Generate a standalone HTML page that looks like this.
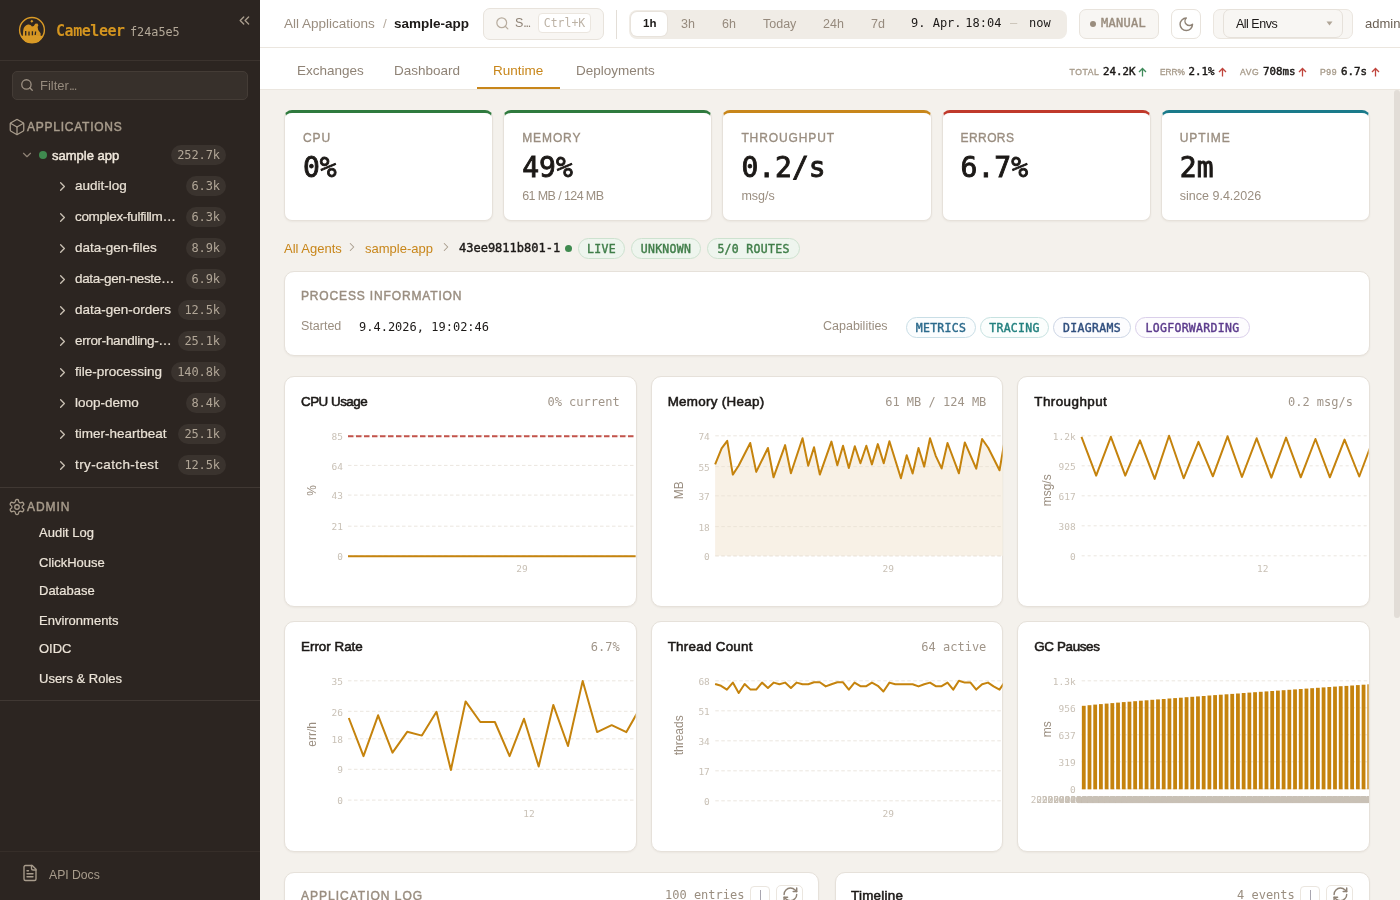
<!DOCTYPE html>
<html><head><meta charset="utf-8"><title>Cameleer</title><style>
*{box-sizing:border-box;margin:0;padding:0}
html,body{width:1400px;height:900px;overflow:hidden}
body{background:#f4f1ec;font-family:"Liberation Sans",sans-serif;color:#1c1917;position:relative}
.m{font-family:"DejaVu Sans Mono","Liberation Mono",monospace}
.a{position:absolute;white-space:nowrap}
#sb{position:absolute;left:0;top:0;width:260px;height:900px;background:#2c2521;overflow:hidden}
.sbl{position:absolute;left:0;width:260px;height:1px;background:#403833}
.nm{position:absolute;font-size:13.5px;color:#e9e1d5;white-space:nowrap}
.cnt{position:absolute;height:20px;border-radius:10px;background:#3a332e;color:#b1a697;font-size:12px;line-height:20px;padding:0 6px;font-family:"DejaVu Sans Mono",monospace;letter-spacing:-0.1px;white-space:nowrap}
.adm{position:absolute;left:39px;font-size:13px;color:#ece4d8;white-space:nowrap;-webkit-text-stroke:0.2px #ece4d8}
#hdr{position:absolute;left:260px;top:0;width:1140px;height:48px;background:#fff;border-bottom:1px solid #ebe6df}
#tabs{position:absolute;left:260px;top:48px;width:1140px;height:42px;background:#fff;border-bottom:1px solid #ebe6df}
.tab{position:absolute;top:15px;font-size:13.5px;color:#8f8376;white-space:nowrap}
.card{position:absolute;background:#fff;border:1px solid #e6e1da;border-radius:10px;overflow:hidden;box-shadow:0 1px 2px rgba(60,40,20,0.05)}
.kpi{border-radius:8px;border-top-width:3px;border-top-style:solid}
.klab{position:absolute;left:18px;top:18px;font-size:12px;letter-spacing:0.9px;color:#9a8e80;-webkit-text-stroke:0.35px #9a8e80}
.kval{position:absolute;left:18px;top:38px;font-size:28px;-webkit-text-stroke:0.9px #1c1917;color:#1c1917;font-family:"DejaVu Sans Mono",monospace;letter-spacing:0px}
.ksub{position:absolute;left:18px;top:75.5px;font-size:12.5px;color:#9a8e80}
.bdg{position:absolute;height:21px;border-radius:11px;font-family:"DejaVu Sans Mono",monospace;font-size:11.5px;-webkit-text-stroke:0.4px currentColor;line-height:21px;text-align:center;letter-spacing:0.3px;white-space:nowrap}
.gb{background:#eef5ee;border:1px solid #cde2cf;color:#3f7d48}
.ctitle{position:absolute;left:16px;top:18px;font-size:13.4px;color:#1c1917;white-space:nowrap;-webkit-text-stroke:0.55px #1c1917}
.cval{position:absolute;right:15px;top:19px;font-size:12px;color:#a09589;font-family:"DejaVu Sans Mono",monospace;white-space:nowrap}
.sec{position:absolute;font-size:12px;letter-spacing:1px;color:#9a8e80;white-space:nowrap;-webkit-text-stroke:0.45px currentColor}
svg{position:absolute;overflow:visible}
</style></head><body>
<div id="sb">
<svg style="left:18px;top:16px" width="28" height="28" viewBox="0 0 28 28">
<circle cx="14" cy="13.9" r="12.4" fill="none" stroke="#d99a26" stroke-width="1.4"/>
<path d="M2.6 20 Q14 18.6 25.4 20 A12.4 12.4 0 0 1 2.6 20Z" fill="#d99a26"/>
<path d="M4.8 20 L5.2 14.5 Q6 9.4 10 8.6 Q12.6 8.3 14 10.4 L15.8 10 L17.2 7.8 L19.4 7.6 L20.4 9.3 L19.6 11 L20.2 14 L22.6 17.2 L22.6 20Z" fill="#d59522"/>
<path d="M13.8 3.8 L15.3 5.3 L13.8 6.8 L12.3 5.3Z" fill="#d99a26"/>
<path d="M7.7 15 L7.7 19.4 M11 15.6 L11 19.4 M14.4 15.2 L14.4 19.2 M17.6 15.5 L17.2 19" stroke="#2c2521" stroke-width="1.3"/>
</svg>
<div class="a m" style="left:56px;top:21.5px;font-size:15px;font-weight:bold;color:#d4951f;letter-spacing:-0.45px">Cameleer</div>
<div class="a m" style="left:130px;top:24.5px;font-size:11.8px;color:#b3a898">f24a5e5</div>
<svg style="left:235.8px;top:11.9px" width="16.8" height="16.8" viewBox="0 0 24 24" fill="none" stroke="#a89c8c" stroke-width="2" stroke-linecap="round" stroke-linejoin="round"><path d="m11 17-5-5 5-5"/><path d="m18 17-5-5 5-5"/></svg>
<div class="sbl" style="top:60px;background:#3b332e"></div>
<div class="a" style="left:12px;top:71px;width:236px;height:29px;border-radius:5px;background:#37302b;border:1px solid #443c36"></div>
<svg style="left:20.3px;top:78.3px" width="14" height="14" viewBox="0 0 24 24" fill="none" stroke="#9d9184" stroke-width="2.2" stroke-linecap="round" stroke-linejoin="round"><circle cx="11" cy="11" r="8"/><path d="m21 21-4.3-4.3"/></svg>
<div class="a" style="left:40px;top:78px;font-size:13px;color:#958a7d">Filter<span style="letter-spacing:-1.2px">...</span></div>
<svg style="left:7.75px;top:118.3px" width="18" height="18" viewBox="0 0 24 24" fill="none" stroke="#a89c8c" stroke-width="1.7" stroke-linecap="round" stroke-linejoin="round"><path d="M21 8a2 2 0 0 0-1-1.73l-7-4a2 2 0 0 0-2 0l-7 4A2 2 0 0 0 3 8v8a2 2 0 0 0 1 1.73l7 4a2 2 0 0 0 2 0l7-4A2 2 0 0 0 21 16Z"/><path d="m3.3 7 8.7 5 8.7-5"/><path d="M12 22V12"/></svg>
<div class="sec" style="left:27px;top:120px;font-size:12px;letter-spacing:0.75px;font-weight:normal;-webkit-text-stroke:0.45px #a89c8c;color:#a89c8c">APPLICATIONS</div>
<svg style="left:19.6px;top:148.1px" width="14" height="14" viewBox="0 0 24 24" fill="none" stroke="#8f8376" stroke-width="2" stroke-linecap="round" stroke-linejoin="round"><path d="m6 9 6 6 6-6"/></svg>
<div class="a" style="left:39px;top:151px;width:8px;height:8px;border-radius:4px;background:#3f8a4f"></div>
<div class="nm" style="left:52px;top:148px;font-size:13px;color:#f0e8dc;-webkit-text-stroke:0.45px #f0e8dc">sample app</div>
<div class="cnt" style="right:34px;top:145px">252.7k</div>
<svg style="left:55.1px;top:179.2px" width="15" height="15" viewBox="0 0 24 24" fill="none" stroke="#cbc2b5" stroke-width="2.1" stroke-linecap="round" stroke-linejoin="round"><path d="m9 18 6-6-6-6"/></svg>
<div class="nm" style="left:75px;top:178px;letter-spacing:0;-webkit-text-stroke:0.2px #e9e1d5">audit-log</div>
<div class="cnt" style="right:34px;top:176px">6.3k</div>
<svg style="left:55.1px;top:210.2px" width="15" height="15" viewBox="0 0 24 24" fill="none" stroke="#cbc2b5" stroke-width="2.1" stroke-linecap="round" stroke-linejoin="round"><path d="m9 18 6-6-6-6"/></svg>
<div class="nm" style="left:75px;top:209px;letter-spacing:-0.35px;-webkit-text-stroke:0.2px #e9e1d5">complex-fulfillm…</div>
<div class="cnt" style="right:34px;top:207px">6.3k</div>
<svg style="left:55.1px;top:241.2px" width="15" height="15" viewBox="0 0 24 24" fill="none" stroke="#cbc2b5" stroke-width="2.1" stroke-linecap="round" stroke-linejoin="round"><path d="m9 18 6-6-6-6"/></svg>
<div class="nm" style="left:75px;top:240px;letter-spacing:0;-webkit-text-stroke:0.2px #e9e1d5">data-gen-files</div>
<div class="cnt" style="right:34px;top:238px">8.9k</div>
<svg style="left:55.1px;top:272.2px" width="15" height="15" viewBox="0 0 24 24" fill="none" stroke="#cbc2b5" stroke-width="2.1" stroke-linecap="round" stroke-linejoin="round"><path d="m9 18 6-6-6-6"/></svg>
<div class="nm" style="left:75px;top:271px;letter-spacing:-0.35px;-webkit-text-stroke:0.2px #e9e1d5">data-gen-neste…</div>
<div class="cnt" style="right:34px;top:269px">6.9k</div>
<svg style="left:55.1px;top:303.2px" width="15" height="15" viewBox="0 0 24 24" fill="none" stroke="#cbc2b5" stroke-width="2.1" stroke-linecap="round" stroke-linejoin="round"><path d="m9 18 6-6-6-6"/></svg>
<div class="nm" style="left:75px;top:302px;letter-spacing:0;-webkit-text-stroke:0.2px #e9e1d5">data-gen-orders</div>
<div class="cnt" style="right:34px;top:300px">12.5k</div>
<svg style="left:55.1px;top:334.2px" width="15" height="15" viewBox="0 0 24 24" fill="none" stroke="#cbc2b5" stroke-width="2.1" stroke-linecap="round" stroke-linejoin="round"><path d="m9 18 6-6-6-6"/></svg>
<div class="nm" style="left:75px;top:333px;letter-spacing:-0.35px;-webkit-text-stroke:0.2px #e9e1d5">error-handling-…</div>
<div class="cnt" style="right:34px;top:331px">25.1k</div>
<svg style="left:55.1px;top:365.2px" width="15" height="15" viewBox="0 0 24 24" fill="none" stroke="#cbc2b5" stroke-width="2.1" stroke-linecap="round" stroke-linejoin="round"><path d="m9 18 6-6-6-6"/></svg>
<div class="nm" style="left:75px;top:364px;letter-spacing:0;-webkit-text-stroke:0.2px #e9e1d5">file-processing</div>
<div class="cnt" style="right:34px;top:362px">140.8k</div>
<svg style="left:55.1px;top:396.2px" width="15" height="15" viewBox="0 0 24 24" fill="none" stroke="#cbc2b5" stroke-width="2.1" stroke-linecap="round" stroke-linejoin="round"><path d="m9 18 6-6-6-6"/></svg>
<div class="nm" style="left:75px;top:395px;letter-spacing:0;-webkit-text-stroke:0.2px #e9e1d5">loop-demo</div>
<div class="cnt" style="right:34px;top:393px">8.4k</div>
<svg style="left:55.1px;top:427.2px" width="15" height="15" viewBox="0 0 24 24" fill="none" stroke="#cbc2b5" stroke-width="2.1" stroke-linecap="round" stroke-linejoin="round"><path d="m9 18 6-6-6-6"/></svg>
<div class="nm" style="left:75px;top:426px;letter-spacing:0;-webkit-text-stroke:0.2px #e9e1d5">timer-heartbeat</div>
<div class="cnt" style="right:34px;top:424px">25.1k</div>
<svg style="left:55.1px;top:458.2px" width="15" height="15" viewBox="0 0 24 24" fill="none" stroke="#cbc2b5" stroke-width="2.1" stroke-linecap="round" stroke-linejoin="round"><path d="m9 18 6-6-6-6"/></svg>
<div class="nm" style="left:75px;top:457px;letter-spacing:0.4px;-webkit-text-stroke:0.2px #e9e1d5">try-catch-test</div>
<div class="cnt" style="right:34px;top:455px">12.5k</div>
<div class="sbl" style="top:487px"></div>
<svg style="left:7.6px;top:497.5px" width="18" height="18" viewBox="0 0 24 24" fill="none" stroke="#a89c8c" stroke-width="1.7" stroke-linecap="round" stroke-linejoin="round"><path d="M12.22 2h-.44a2 2 0 0 0-2 2v.18a2 2 0 0 1-1 1.73l-.43.25a2 2 0 0 1-2 0l-.15-.08a2 2 0 0 0-2.73.73l-.22.38a2 2 0 0 0 .73 2.73l.15.1a2 2 0 0 1 1 1.72v.51a2 2 0 0 1-1 1.74l-.15.09a2 2 0 0 0-.73 2.73l.22.38a2 2 0 0 0 2.73.73l.15-.08a2 2 0 0 1 2 0l.43.25a2 2 0 0 1 1 1.73V20a2 2 0 0 0 2 2h.44a2 2 0 0 0 2-2v-.18a2 2 0 0 1 1-1.73l.43-.25a2 2 0 0 1 2 0l.15.08a2 2 0 0 0 2.73-.73l.22-.39a2 2 0 0 0-.73-2.73l-.15-.08a2 2 0 0 1-1-1.74v-.5a2 2 0 0 1 1-1.74l.15-.09a2 2 0 0 0 .73-2.73l-.22-.38a2 2 0 0 0-2.73-.73l-.15.08a2 2 0 0 1-2 0l-.43-.25a2 2 0 0 1-1-1.73V4a2 2 0 0 0-2-2z"/><circle cx="12" cy="12" r="3"/></svg>
<div class="sec" style="left:27px;top:500px;font-size:12px;letter-spacing:0.95px;font-weight:normal;-webkit-text-stroke:0.45px #a89c8c;color:#a89c8c">ADMIN</div>
<div class="adm" style="top:525px">Audit Log</div>
<div class="adm" style="top:555px">ClickHouse</div>
<div class="adm" style="top:583px">Database</div>
<div class="adm" style="top:613px">Environments</div>
<div class="adm" style="top:641px">OIDC</div>
<div class="adm" style="top:671px">Users &amp; Roles</div>
<div class="sbl" style="top:700px"></div>
<div class="sbl" style="top:851px;background:#362e29"></div>
<svg style="left:21px;top:863.5px" width="18" height="18" viewBox="0 0 24 24" fill="none" stroke="#a89c8c" stroke-width="1.8" stroke-linecap="round" stroke-linejoin="round"><path d="M15 2H6a2 2 0 0 0-2 2v16a2 2 0 0 0 2 2h12a2 2 0 0 0 2-2V7Z"/><path d="M14 2v4a2 2 0 0 0 2 2h4"/><path d="M10 9H8"/><path d="M16 13H8"/><path d="M16 17H8"/></svg>
<div class="a" style="left:49px;top:867.5px;font-size:12.2px;color:#a89c8c">API Docs</div>
</div>
<div id="hdr"></div>
<div class="a" style="left:284px;top:16px;font-size:13.5px;color:#9a8e80">All Applications</div><div class="a" style="left:383px;top:16px;font-size:13.5px;color:#b8ada0">/</div><div class="a" style="left:394px;top:16px;font-size:13.5px;font-weight:bold;color:#1c1917">sample-app</div>
<div class="a" style="left:483px;top:8px;width:121px;height:32px;border-radius:7px;background:#f8f6f3;border:1px solid #e8e3dc"></div>
<svg style="left:495.2px;top:16.2px" width="14.7" height="14.7" viewBox="0 0 24 24" fill="none" stroke="#b8ad9f" stroke-width="2" stroke-linecap="round" stroke-linejoin="round"><circle cx="11" cy="11" r="8"/><path d="m21 21-4.3-4.3"/></svg>
<div class="a" style="left:515px;top:16px;font-size:12.5px;color:#8f8376">S<span style="letter-spacing:-1.3px">...</span></div>
<div class="a m" style="left:538px;top:13px;width:53px;height:20px;border-radius:4px;background:#fff;border:1px solid #ebe6df;font-size:11.5px;color:#bdb3a6;line-height:18px;text-align:center">Ctrl+K</div>
<div class="a" style="left:616px;top:10px;width:1px;height:29px;background:#e3ded7"></div>
<div class="a" style="left:629px;top:10px;width:438px;height:29px;border-radius:8px;background:#f0ece6"></div>
<div class="a" style="left:631px;top:12px;width:36px;height:24px;border-radius:6px;background:#fff;box-shadow:0 0 0 1px #e8e3dc"></div>
<div class="a" style="left:643px;top:17px;font-size:12.5px;color:#1c1917;font-weight:bold;font-size:11.5px">1h</div>
<div class="a" style="left:681px;top:17px;font-size:12.5px;color:#968a7d">3h</div>
<div class="a" style="left:722px;top:17px;font-size:12.5px;color:#968a7d">6h</div>
<div class="a" style="left:763px;top:17px;font-size:12.5px;color:#968a7d">Today</div>
<div class="a" style="left:823px;top:17px;font-size:12.5px;color:#968a7d">24h</div>
<div class="a" style="left:871px;top:17px;font-size:12.5px;color:#968a7d">7d</div>
<div class="a m" style="left:911px;top:16px;font-size:12px;color:#1c1917">9. Apr.<span style="margin-left:-3.5px"> </span>18:04</div>
<div class="a m" style="left:1010px;top:16px;font-size:12px;color:#c9c0b5">—</div>
<div class="a m" style="left:1029px;top:16px;font-size:12px;color:#1c1917">now</div>
<div class="a" style="left:1079px;top:9px;width:80px;height:30px;border-radius:7px;background:#f8f6f3;border:1px solid #e8e3dc"></div>
<div class="a" style="left:1090px;top:21px;width:6px;height:6px;border-radius:3px;background:#9a8d7e"></div>
<div class="a m" style="left:1101px;top:16px;font-size:12px;color:#9a8d7e;letter-spacing:0.3px;-webkit-text-stroke:0.4px #9a8d7e">MANUAL</div>
<div class="a" style="left:1171px;top:9px;width:30px;height:30px;border-radius:7px;background:#fff;border:1px solid #e8e3dc"></div>
<svg style="left:1177.6px;top:15.6px" width="16.6" height="16.6" viewBox="0 0 24 24"><path d="M12 3a6 6 0 0 0 9 9 9 9 0 1 1-9-9Z" fill="none" stroke="#8f8376" stroke-width="2.1" stroke-linejoin="round" stroke-linecap="round"/></svg>
<div class="a" style="left:1213px;top:9px;width:140px;height:30px;border-radius:7px;background:#f8f6f3;border:1px solid #ebe6df"></div>
<div class="a" style="left:1223px;top:9px;width:120px;height:29px;border-radius:7px;background:#f8f6f3;border:1px solid #e6e1da"></div>
<div class="a" style="left:1236px;top:16.5px;font-size:12.5px;letter-spacing:-0.5px;color:#1c1917">All Envs</div>
<svg style="left:1326px;top:21px" width="7" height="5" viewBox="0 0 7 5"><path d="M0.5 0.5 L6.5 0.5 L3.5 4.5Z" fill="#b0a597"/></svg>
<div class="a" style="left:1365px;top:16px;font-size:13px;color:#6b6055">admin</div>
<div id="tabs"></div>
<div class="tab" style="left:297px;top:63px;color:#8f8376">Exchanges</div>
<div class="tab" style="left:394px;top:63px;color:#8f8376">Dashboard</div>
<div class="tab" style="left:493px;top:63px;color:#c8861a">Runtime</div>
<div class="tab" style="left:576px;top:63px;color:#8f8376">Deployments</div>
<div class="a" style="left:477px;top:87px;width:83px;height:2px;background:#c8861a"></div>
<div class="a" style="left:1069.5px;top:67px;font-size:8.6px;letter-spacing:0.6px;color:#a89c8c;-webkit-text-stroke:0.35px #a89c8c">TOTAL</div>
<div class="a m" style="left:1103px;top:65px;font-size:10.8px;color:#1c1917;-webkit-text-stroke:0.45px #1c1917">24.2K</div>
<svg style="left:1137.5px;top:67px" width="9" height="10" viewBox="0 0 9 10"><path d="M4.5 9.5 V1.5 M1 5 L4.5 1.5 L8 5" fill="none" stroke="#3f8a5a" stroke-width="1.3"/></svg>
<div class="a" style="left:1160px;top:67px;font-size:8.6px;letter-spacing:0.6px;color:#a89c8c;-webkit-text-stroke:0.35px #a89c8c"><span style="letter-spacing:0;font-size:8.3px">ERR%</span></div>
<div class="a m" style="left:1188.5px;top:65px;font-size:10.8px;color:#1c1917;-webkit-text-stroke:0.45px #1c1917">2.1%</div>
<svg style="left:1217.5px;top:67px" width="9" height="10" viewBox="0 0 9 10"><path d="M4.5 9.5 V1.5 M1 5 L4.5 1.5 L8 5" fill="none" stroke="#c0443c" stroke-width="1.3"/></svg>
<div class="a" style="left:1240px;top:67px;font-size:8.6px;letter-spacing:0.6px;color:#a89c8c;-webkit-text-stroke:0.35px #a89c8c">AVG</div>
<div class="a m" style="left:1263px;top:65px;font-size:10.8px;color:#1c1917;-webkit-text-stroke:0.45px #1c1917">708ms</div>
<svg style="left:1297.5px;top:67px" width="9" height="10" viewBox="0 0 9 10"><path d="M4.5 9.5 V1.5 M1 5 L4.5 1.5 L8 5" fill="none" stroke="#c0443c" stroke-width="1.3"/></svg>
<div class="a" style="left:1320px;top:67px;font-size:8.6px;letter-spacing:0.6px;color:#a89c8c;-webkit-text-stroke:0.35px #a89c8c">P99</div>
<div class="a m" style="left:1341px;top:65px;font-size:10.8px;color:#1c1917;-webkit-text-stroke:0.45px #1c1917">6.7s</div>
<svg style="left:1370.5px;top:67px" width="9" height="10" viewBox="0 0 9 10"><path d="M4.5 9.5 V1.5 M1 5 L4.5 1.5 L8 5" fill="none" stroke="#c0443c" stroke-width="1.3"/></svg>
<div class="a" style="left:1394px;top:90px;width:6px;height:528px;border-radius:3px;background:#e2ddd7"></div>
<div class="card kpi" style="left:284px;top:110px;width:209.2px;height:111px;border-top-color:#2f7a3e">
<div class="klab">CPU</div><div class="kval">0%</div>
</div>
<div class="card kpi" style="left:503.2px;top:110px;width:209.2px;height:111px;border-top-color:#2f7a3e">
<div class="klab">MEMORY</div><div class="kval">49%</div>
<div class="ksub"><span style="letter-spacing:-0.6px">61 MB / 124 MB</span></div>
</div>
<div class="card kpi" style="left:722.4px;top:110px;width:209.2px;height:111px;border-top-color:#c8861a">
<div class="klab">THROUGHPUT</div><div class="kval">0.2/s</div>
<div class="ksub">msg/s</div>
</div>
<div class="card kpi" style="left:941.6px;top:110px;width:209.2px;height:111px;border-top-color:#c0392b">
<div class="klab"><span style="letter-spacing:0.4px">ERRORS</span></div><div class="kval">6.7%</div>
</div>
<div class="card kpi" style="left:1160.8px;top:110px;width:209.2px;height:111px;border-top-color:#1a7a8a">
<div class="klab">UPTIME</div><div class="kval">2m</div>
<div class="ksub">since 9.4.2026</div>
</div>
<div class="a" style="left:284px;top:241px;font-size:13px;color:#c8861a">All Agents</div>
<svg style="left:344.8px;top:239.5px" width="14" height="14" viewBox="0 0 24 24" fill="none" stroke="#a89c8c" stroke-width="1.8" stroke-linecap="round" stroke-linejoin="round"><path d="m9 18 6-6-6-6"/></svg>
<div class="a" style="left:365px;top:241px;font-size:13px;color:#c8861a">sample-app</div>
<svg style="left:438.8px;top:239.5px" width="14" height="14" viewBox="0 0 24 24" fill="none" stroke="#a89c8c" stroke-width="1.8" stroke-linecap="round" stroke-linejoin="round"><path d="m9 18 6-6-6-6"/></svg>
<div class="a m" style="left:459px;top:241px;font-size:12px;-webkit-text-stroke:0.4px #1c1917;color:#1c1917">43ee9811b801-1</div>
<div class="a" style="left:565px;top:245px;width:7px;height:7px;border-radius:4px;background:#3f8a4f"></div>
<div class="bdg gb" style="left:578px;top:238px;width:47px">LIVE</div>
<div class="bdg gb" style="left:631px;top:238px;width:70px">UNKNOWN</div>
<div class="bdg gb" style="left:707px;top:238px;width:93px">5/0 ROUTES</div>
<div class="card" style="left:284px;top:271px;width:1086px;height:85px"></div>
<div class="sec" style="left:301px;top:289px;letter-spacing:0.85px">PROCESS INFORMATION</div>
<div class="a" style="left:301px;top:319px;font-size:12.5px;color:#9a8e80">Started</div>
<div class="a m" style="left:359px;top:320px;font-size:12px;color:#1c1917">9.4.2026, 19:02:46</div>
<div class="a" style="left:823px;top:319px;font-size:12.5px;color:#9a8e80">Capabilities</div>
<div class="bdg" style="left:906px;top:317px;width:70px;color:#2b6a8c;border:1px solid #c9dee6;background:#fbfdfe">METRICS</div>
<div class="bdg" style="left:980px;top:317px;width:69px;color:#23817f;border:1px solid #c7e2e1;background:#fbfefd">TRACING</div>
<div class="bdg" style="left:1053px;top:317px;width:78px;color:#2f4e7e;border:1px solid #ccd5e5;background:#fcfcfe">DIAGRAMS</div>
<div class="bdg" style="left:1135px;top:317px;width:115px;color:#5b3a8c;border:1px solid #dacfea;background:#fdfcfe">LOGFORWARDING</div>
<div class="card" style="left:284px;top:375.7px;width:352.67px;height:231px;overflow:visible;border-radius:10px"></div>
<div class="ctitle" style="left:301px;top:394px;letter-spacing:-0.5px">CPU Usage</div>
<div class="cval" style="right:780.33px;top:395px">0% current</div>
<svg style="left:285.00px;top:376.70px" width="350.67" height="229.00" viewBox="285.00 376.70 350.67 229.00"><defs><clipPath id="cp1"><rect x="285.00" y="376.70" width="350.67" height="229.00" rx="9"/></clipPath></defs><g clip-path="url(#cp1)"><line x1="348" y1="435.5" x2="676" y2="435.5" stroke="#ebe6df" stroke-width="1" stroke-dasharray="3.5 2.5"/><text x="343" y="439.7" text-anchor="end" font-family="DejaVu Sans Mono" font-size="9.5" fill="#c9c1b6">85</text><line x1="348" y1="465.1" x2="676" y2="465.1" stroke="#ebe6df" stroke-width="1" stroke-dasharray="3.5 2.5"/><text x="343" y="469.3" text-anchor="end" font-family="DejaVu Sans Mono" font-size="9.5" fill="#c9c1b6">64</text><line x1="348" y1="494.8" x2="676" y2="494.8" stroke="#ebe6df" stroke-width="1" stroke-dasharray="3.5 2.5"/><text x="343" y="499.0" text-anchor="end" font-family="DejaVu Sans Mono" font-size="9.5" fill="#c9c1b6">43</text><line x1="348" y1="525.9" x2="676" y2="525.9" stroke="#ebe6df" stroke-width="1" stroke-dasharray="3.5 2.5"/><text x="343" y="530.1" text-anchor="end" font-family="DejaVu Sans Mono" font-size="9.5" fill="#c9c1b6">21</text><line x1="348" y1="555.5" x2="676" y2="555.5" stroke="#ebe6df" stroke-width="1" stroke-dasharray="3.5 2.5"/><text x="343" y="559.7" text-anchor="end" font-family="DejaVu Sans Mono" font-size="9.5" fill="#c9c1b6">0</text><line x1="348" y1="436" x2="640" y2="436" stroke="#c2534b" stroke-width="2" stroke-dasharray="5.5 2.5"/><line x1="348" y1="556" x2="640" y2="556" stroke="#c5830d" stroke-width="2"/><text x="522" y="572" text-anchor="middle" font-family="DejaVu Sans Mono" font-size="9.5" fill="#c9c1b6">29</text><text transform="translate(316,490) rotate(-90)" text-anchor="middle" font-family="Liberation Sans" font-size="12" fill="#9a8e80">%</text></g></svg>
<div class="card" style="left:650.67px;top:375.7px;width:352.67px;height:231px;overflow:visible;border-radius:10px"></div>
<div class="ctitle" style="left:667.67px;top:394px;letter-spacing:0.29px">Memory (Heap)</div>
<div class="cval" style="right:413.66px;top:395px">61 MB / 124 MB</div>
<svg style="left:651.67px;top:376.70px" width="350.67" height="229.00" viewBox="651.67 376.70 350.67 229.00"><defs><clipPath id="cp2"><rect x="651.67" y="376.70" width="350.67" height="229.00" rx="9"/></clipPath></defs><g clip-path="url(#cp2)"><line x1="715" y1="435.5" x2="1043" y2="435.5" stroke="#ebe6df" stroke-width="1" stroke-dasharray="3.5 2.5"/><text x="709.5" y="439.7" text-anchor="end" font-family="DejaVu Sans Mono" font-size="9.5" fill="#c9c1b6">74</text><line x1="715" y1="466.3" x2="1043" y2="466.3" stroke="#ebe6df" stroke-width="1" stroke-dasharray="3.5 2.5"/><text x="709.5" y="470.5" text-anchor="end" font-family="DejaVu Sans Mono" font-size="9.5" fill="#c9c1b6">55</text><line x1="715" y1="495.5" x2="1043" y2="495.5" stroke="#ebe6df" stroke-width="1" stroke-dasharray="3.5 2.5"/><text x="709.5" y="499.7" text-anchor="end" font-family="DejaVu Sans Mono" font-size="9.5" fill="#c9c1b6">37</text><line x1="715" y1="526.3" x2="1043" y2="526.3" stroke="#ebe6df" stroke-width="1" stroke-dasharray="3.5 2.5"/><text x="709.5" y="530.5" text-anchor="end" font-family="DejaVu Sans Mono" font-size="9.5" fill="#c9c1b6">18</text><line x1="715" y1="555.5" x2="1043" y2="555.5" stroke="#ebe6df" stroke-width="1" stroke-dasharray="3.5 2.5"/><text x="709.5" y="559.7" text-anchor="end" font-family="DejaVu Sans Mono" font-size="9.5" fill="#c9c1b6">0</text><path d="M714.8,464.1 L721.3,448.0 L726.9,440.5 L732.5,474.3 L738.4,465.2 L749.9,442.7 L755.9,471.6 L767.6,447.7 L773.2,477.0 L784.8,444.8 L790.6,473.0 L802.2,437.9 L807.9,465.4 L813.7,447.0 L819.5,474.3 L831.1,441.3 L837.0,464.9 L842.7,445.4 L848.5,467.7 L854.5,445.9 L860.1,463.0 L866.0,445.4 L871.6,464.1 L877.5,443.8 L883.4,463.0 L889.1,440.9 L900.6,478.0 L906.4,455.0 L912.3,473.2 L918.2,447.7 L923.9,466.3 L929.7,437.9 L935.4,455.5 L941.3,468.1 L947.2,442.7 L958.6,473.0 L964.5,442.1 L975.9,468.4 L981.8,438.7 L987.9,447.5 L999.2,470.0 L1004.7,438.0 L1010.0,460.0 L1010,555.5 L714.8,555.5Z" fill="#f8f1e6"/><line x1="715" y1="466.3" x2="1010" y2="466.3" stroke="#ece4d8" stroke-width="1" stroke-dasharray="3.5 2.5"/><line x1="715" y1="495.5" x2="1010" y2="495.5" stroke="#ece4d8" stroke-width="1" stroke-dasharray="3.5 2.5"/><line x1="715" y1="526.3" x2="1010" y2="526.3" stroke="#ece4d8" stroke-width="1" stroke-dasharray="3.5 2.5"/><line x1="715" y1="555.5" x2="1010" y2="555.5" stroke="#ece4d8" stroke-width="1" stroke-dasharray="3.5 2.5"/><polyline points="714.8,464.1 721.3,448.0 726.9,440.5 732.5,474.3 738.4,465.2 749.9,442.7 755.9,471.6 767.6,447.7 773.2,477.0 784.8,444.8 790.6,473.0 802.2,437.9 807.9,465.4 813.7,447.0 819.5,474.3 831.1,441.3 837.0,464.9 842.7,445.4 848.5,467.7 854.5,445.9 860.1,463.0 866.0,445.4 871.6,464.1 877.5,443.8 883.4,463.0 889.1,440.9 900.6,478.0 906.4,455.0 912.3,473.2 918.2,447.7 923.9,466.3 929.7,437.9 935.4,455.5 941.3,468.1 947.2,442.7 958.6,473.0 964.5,442.1 975.9,468.4 981.8,438.7 987.9,447.5 999.2,470.0 1004.7,438.0 1010.0,460.0" fill="none" stroke="#c5830d" stroke-width="2" stroke-linejoin="round"/><text x="888" y="572" text-anchor="middle" font-family="DejaVu Sans Mono" font-size="9.5" fill="#c9c1b6">29</text><text transform="translate(683,490) rotate(-90)" text-anchor="middle" font-family="Liberation Sans" font-size="12" fill="#9a8e80">MB</text></g></svg>
<div class="card" style="left:1017.33px;top:375.7px;width:352.67px;height:231px;overflow:visible;border-radius:10px"></div>
<div class="ctitle" style="left:1034.33px;top:394px;letter-spacing:0.44px">Throughput</div>
<div class="cval" style="right:47.00px;top:395px">0.2 msg/s</div>
<svg style="left:1018.33px;top:376.70px" width="350.67" height="229.00" viewBox="1018.33 376.70 350.67 229.00"><defs><clipPath id="cp3"><rect x="1018.33" y="376.70" width="350.67" height="229.00" rx="9"/></clipPath></defs><g clip-path="url(#cp3)"><line x1="1082" y1="435.5" x2="1410" y2="435.5" stroke="#ebe6df" stroke-width="1" stroke-dasharray="3 3"/><text x="1076" y="439.7" text-anchor="end" font-family="DejaVu Sans Mono" font-size="9.5" fill="#c9c1b6">1.2k</text><line x1="1082" y1="465.5" x2="1410" y2="465.5" stroke="#ebe6df" stroke-width="1" stroke-dasharray="3 3"/><text x="1076" y="469.7" text-anchor="end" font-family="DejaVu Sans Mono" font-size="9.5" fill="#c9c1b6">925</text><line x1="1082" y1="495.5" x2="1410" y2="495.5" stroke="#ebe6df" stroke-width="1" stroke-dasharray="3 3"/><text x="1076" y="499.7" text-anchor="end" font-family="DejaVu Sans Mono" font-size="9.5" fill="#c9c1b6">617</text><line x1="1082" y1="525.5" x2="1410" y2="525.5" stroke="#ebe6df" stroke-width="1" stroke-dasharray="3 3"/><text x="1076" y="529.7" text-anchor="end" font-family="DejaVu Sans Mono" font-size="9.5" fill="#c9c1b6">308</text><line x1="1082" y1="555.5" x2="1410" y2="555.5" stroke="#ebe6df" stroke-width="1" stroke-dasharray="3 3"/><text x="1076" y="559.7" text-anchor="end" font-family="DejaVu Sans Mono" font-size="9.5" fill="#c9c1b6">0</text><polyline points="1081.8,436.5 1096.5,475.3 1111.2,436.5 1125.6,475.3 1140.3,440.0 1155.0,478.6 1169.4,435.4 1184.0,478.0 1198.8,441.5 1213.2,476.0 1227.9,436.0 1242.3,476.7 1257.0,438.0 1271.7,477.3 1286.4,437.3 1301.1,477.0 1315.8,438.7 1330.2,477.0 1344.9,439.3 1359.6,476.2 1374.3,437.0" fill="none" stroke="#c5830d" stroke-width="2" stroke-linejoin="round"/><text x="1263" y="572" text-anchor="middle" font-family="DejaVu Sans Mono" font-size="9.5" fill="#c9c1b6">12</text><text transform="translate(1051,490) rotate(-90)" text-anchor="middle" font-family="Liberation Sans" font-size="12" fill="#9a8e80">msg/s</text></g></svg>
<div class="card" style="left:284px;top:620.7px;width:352.67px;height:231px;overflow:visible;border-radius:10px"></div>
<div class="ctitle" style="left:301px;top:639px;letter-spacing:0px">Error Rate</div>
<div class="cval" style="right:780.33px;top:640px">6.7%</div>
<svg style="left:285.00px;top:621.70px" width="350.67" height="229.00" viewBox="285.00 621.70 350.67 229.00"><defs><clipPath id="cp4"><rect x="285.00" y="621.70" width="350.67" height="229.00" rx="9"/></clipPath></defs><g clip-path="url(#cp4)"><line x1="348" y1="680.5" x2="676" y2="680.5" stroke="#ebe6df" stroke-width="1" stroke-dasharray="3.5 2.5"/><text x="343" y="684.7" text-anchor="end" font-family="DejaVu Sans Mono" font-size="9.5" fill="#c9c1b6">35</text><line x1="348" y1="711.0" x2="676" y2="711.0" stroke="#ebe6df" stroke-width="1" stroke-dasharray="3.5 2.5"/><text x="343" y="715.2" text-anchor="end" font-family="DejaVu Sans Mono" font-size="9.5" fill="#c9c1b6">26</text><line x1="348" y1="738.5" x2="676" y2="738.5" stroke="#ebe6df" stroke-width="1" stroke-dasharray="3.5 2.5"/><text x="343" y="742.7" text-anchor="end" font-family="DejaVu Sans Mono" font-size="9.5" fill="#c9c1b6">18</text><line x1="348" y1="769.0" x2="676" y2="769.0" stroke="#ebe6df" stroke-width="1" stroke-dasharray="3.5 2.5"/><text x="343" y="773.2" text-anchor="end" font-family="DejaVu Sans Mono" font-size="9.5" fill="#c9c1b6">9</text><line x1="348" y1="799.8" x2="676" y2="799.8" stroke="#ebe6df" stroke-width="1" stroke-dasharray="3.5 2.5"/><text x="343" y="804.0" text-anchor="end" font-family="DejaVu Sans Mono" font-size="9.5" fill="#c9c1b6">0</text><polyline points="348.8,717.7 363.5,755.8 378.1,715.0 392.5,752.3 407.2,731.5 421.9,735.3 436.5,711.5 450.9,769.7 465.6,701.1 480.3,721.7 494.9,721.7 509.6,755.8 524.0,718.5 538.7,766.2 553.3,704.6 568.0,745.7 582.7,680.6 597.1,731.8 611.7,724.9 626.4,731.8 641.0,706.0" fill="none" stroke="#c5830d" stroke-width="2" stroke-linejoin="round"/><text x="529" y="817" text-anchor="middle" font-family="DejaVu Sans Mono" font-size="9.5" fill="#c9c1b6">12</text><text transform="translate(316,734) rotate(-90)" text-anchor="middle" font-family="Liberation Sans" font-size="12" fill="#9a8e80">err/h</text></g></svg>
<div class="card" style="left:650.67px;top:620.7px;width:352.67px;height:231px;overflow:visible;border-radius:10px"></div>
<div class="ctitle" style="left:667.67px;top:639px;letter-spacing:0.27px">Thread Count</div>
<div class="cval" style="right:413.66px;top:640px">64 active</div>
<svg style="left:651.67px;top:621.70px" width="350.67" height="229.00" viewBox="651.67 621.70 350.67 229.00"><defs><clipPath id="cp5"><rect x="651.67" y="621.70" width="350.67" height="229.00" rx="9"/></clipPath></defs><g clip-path="url(#cp5)"><line x1="715" y1="680.5" x2="1043" y2="680.5" stroke="#ebe6df" stroke-width="1" stroke-dasharray="3.5 2.5"/><text x="709.5" y="684.7" text-anchor="end" font-family="DejaVu Sans Mono" font-size="9.5" fill="#c9c1b6">68</text><line x1="715" y1="710.5" x2="1043" y2="710.5" stroke="#ebe6df" stroke-width="1" stroke-dasharray="3.5 2.5"/><text x="709.5" y="714.7" text-anchor="end" font-family="DejaVu Sans Mono" font-size="9.5" fill="#c9c1b6">51</text><line x1="715" y1="740.5" x2="1043" y2="740.5" stroke="#ebe6df" stroke-width="1" stroke-dasharray="3.5 2.5"/><text x="709.5" y="744.7" text-anchor="end" font-family="DejaVu Sans Mono" font-size="9.5" fill="#c9c1b6">34</text><line x1="715" y1="770.5" x2="1043" y2="770.5" stroke="#ebe6df" stroke-width="1" stroke-dasharray="3.5 2.5"/><text x="709.5" y="774.7" text-anchor="end" font-family="DejaVu Sans Mono" font-size="9.5" fill="#c9c1b6">17</text><line x1="715" y1="800.5" x2="1043" y2="800.5" stroke="#ebe6df" stroke-width="1" stroke-dasharray="3.5 2.5"/><text x="709.5" y="804.7" text-anchor="end" font-family="DejaVu Sans Mono" font-size="9.5" fill="#c9c1b6">0</text><polyline points="714.8,683.7 720.7,685.5 726.6,689.3 732.5,682.3 738.4,692.7 744.3,683.7 750.2,689.3 755.9,689.3 761.7,682.3 767.6,687.7 773.5,682.3 779.1,683.9 784.8,682.3 790.6,687.7 796.4,682.3 802.2,683.9 807.9,683.9 813.7,682.0 819.5,682.0 825.4,686.1 831.1,683.9 837.0,682.0 842.7,682.0 848.5,689.3 854.2,682.3 860.1,685.9 866.0,685.9 871.6,682.3 877.5,685.5 883.1,691.2 889.1,682.3 894.9,683.9 900.6,683.9 906.4,683.9 912.3,683.9 918.2,686.1 923.9,683.9 929.7,682.3 935.4,685.9 941.3,685.9 947.2,682.3 952.9,689.3 958.6,680.4 964.5,682.3 970.2,682.3 975.9,689.3 981.8,683.9 987.7,682.3 993.3,686.1 999.2,689.3 1005.0,681.0" fill="none" stroke="#c5830d" stroke-width="2" stroke-linejoin="round"/><text x="888" y="817" text-anchor="middle" font-family="DejaVu Sans Mono" font-size="9.5" fill="#c9c1b6">29</text><text transform="translate(683,735) rotate(-90)" text-anchor="middle" font-family="Liberation Sans" font-size="12" fill="#9a8e80">threads</text></g></svg>
<div class="card" style="left:1017.33px;top:620.7px;width:352.67px;height:231px;overflow:visible;border-radius:10px"></div>
<div class="ctitle" style="left:1034.33px;top:639px;letter-spacing:-0.37px">GC Pauses</div>
<svg style="left:1018.33px;top:621.70px" width="350.67" height="229.00" viewBox="1018.33 621.70 350.67 229.00"><defs><clipPath id="cp6"><rect x="1018.33" y="621.70" width="350.67" height="229.00" rx="9"/></clipPath></defs><g clip-path="url(#cp6)"><line x1="1082" y1="680.5" x2="1410" y2="680.5" stroke="#ebe6df" stroke-width="1" stroke-dasharray="3.5 2.5"/><text x="1076" y="684.7" text-anchor="end" font-family="DejaVu Sans Mono" font-size="9.5" fill="#c9c1b6">1.3k</text><line x1="1082" y1="707.5" x2="1410" y2="707.5" stroke="#ebe6df" stroke-width="1" stroke-dasharray="3.5 2.5"/><text x="1076" y="711.7" text-anchor="end" font-family="DejaVu Sans Mono" font-size="9.5" fill="#c9c1b6">956</text><line x1="1082" y1="734.5" x2="1410" y2="734.5" stroke="#ebe6df" stroke-width="1" stroke-dasharray="3.5 2.5"/><text x="1076" y="738.7" text-anchor="end" font-family="DejaVu Sans Mono" font-size="9.5" fill="#c9c1b6">637</text><line x1="1082" y1="761.5" x2="1410" y2="761.5" stroke="#ebe6df" stroke-width="1" stroke-dasharray="3.5 2.5"/><text x="1076" y="765.7" text-anchor="end" font-family="DejaVu Sans Mono" font-size="9.5" fill="#c9c1b6">319</text><line x1="1082" y1="788.5" x2="1410" y2="788.5" stroke="#ebe6df" stroke-width="1" stroke-dasharray="3.5 2.5"/><text x="1076" y="792.7" text-anchor="end" font-family="DejaVu Sans Mono" font-size="9.5" fill="#c9c1b6">0</text><rect x="1082.20" y="705.5" width="3.8" height="83.5" fill="#c5830d"/><rect x="1087.91" y="704.9" width="3.8" height="84.1" fill="#c5830d"/><rect x="1093.62" y="704.3" width="3.8" height="84.7" fill="#c5830d"/><rect x="1099.33" y="703.8" width="3.8" height="85.2" fill="#c5830d"/><rect x="1105.04" y="703.3" width="3.8" height="85.7" fill="#c5830d"/><rect x="1110.75" y="702.8" width="3.8" height="86.2" fill="#c5830d"/><rect x="1116.46" y="702.3" width="3.8" height="86.7" fill="#c5830d"/><rect x="1122.17" y="701.8" width="3.8" height="87.2" fill="#c5830d"/><rect x="1127.88" y="701.4" width="3.8" height="87.6" fill="#c5830d"/><rect x="1133.59" y="700.9" width="3.8" height="88.1" fill="#c5830d"/><rect x="1139.30" y="700.4" width="3.8" height="88.6" fill="#c5830d"/><rect x="1145.01" y="700.0" width="3.8" height="89.0" fill="#c5830d"/><rect x="1150.72" y="699.5" width="3.8" height="89.5" fill="#c5830d"/><rect x="1156.43" y="699.1" width="3.8" height="89.9" fill="#c5830d"/><rect x="1162.14" y="698.7" width="3.8" height="90.3" fill="#c5830d"/><rect x="1167.85" y="698.2" width="3.8" height="90.8" fill="#c5830d"/><rect x="1173.56" y="697.8" width="3.8" height="91.2" fill="#c5830d"/><rect x="1179.27" y="697.4" width="3.8" height="91.6" fill="#c5830d"/><rect x="1184.98" y="696.9" width="3.8" height="92.1" fill="#c5830d"/><rect x="1190.69" y="696.5" width="3.8" height="92.5" fill="#c5830d"/><rect x="1196.40" y="696.1" width="3.8" height="92.9" fill="#c5830d"/><rect x="1202.11" y="695.7" width="3.8" height="93.3" fill="#c5830d"/><rect x="1207.82" y="695.2" width="3.8" height="93.8" fill="#c5830d"/><rect x="1213.53" y="694.8" width="3.8" height="94.2" fill="#c5830d"/><rect x="1219.24" y="694.4" width="3.8" height="94.6" fill="#c5830d"/><rect x="1224.95" y="694.0" width="3.8" height="95.0" fill="#c5830d"/><rect x="1230.66" y="693.6" width="3.8" height="95.4" fill="#c5830d"/><rect x="1236.37" y="693.2" width="3.8" height="95.8" fill="#c5830d"/><rect x="1242.08" y="692.7" width="3.8" height="96.3" fill="#c5830d"/><rect x="1247.79" y="692.3" width="3.8" height="96.7" fill="#c5830d"/><rect x="1253.50" y="691.9" width="3.8" height="97.1" fill="#c5830d"/><rect x="1259.21" y="691.5" width="3.8" height="97.5" fill="#c5830d"/><rect x="1264.92" y="691.1" width="3.8" height="97.9" fill="#c5830d"/><rect x="1270.63" y="690.7" width="3.8" height="98.3" fill="#c5830d"/><rect x="1276.34" y="690.3" width="3.8" height="98.7" fill="#c5830d"/><rect x="1282.05" y="689.9" width="3.8" height="99.1" fill="#c5830d"/><rect x="1287.76" y="689.5" width="3.8" height="99.5" fill="#c5830d"/><rect x="1293.47" y="689.1" width="3.8" height="99.9" fill="#c5830d"/><rect x="1299.18" y="688.7" width="3.8" height="100.3" fill="#c5830d"/><rect x="1304.89" y="688.3" width="3.8" height="100.7" fill="#c5830d"/><rect x="1310.60" y="687.9" width="3.8" height="101.1" fill="#c5830d"/><rect x="1316.31" y="687.5" width="3.8" height="101.5" fill="#c5830d"/><rect x="1322.02" y="687.1" width="3.8" height="101.9" fill="#c5830d"/><rect x="1327.73" y="686.7" width="3.8" height="102.3" fill="#c5830d"/><rect x="1333.44" y="686.3" width="3.8" height="102.7" fill="#c5830d"/><rect x="1339.15" y="685.9" width="3.8" height="103.1" fill="#c5830d"/><rect x="1344.86" y="685.6" width="3.8" height="103.4" fill="#c5830d"/><rect x="1350.57" y="685.2" width="3.8" height="103.8" fill="#c5830d"/><rect x="1356.28" y="684.8" width="3.8" height="104.2" fill="#c5830d"/><rect x="1361.99" y="684.4" width="3.8" height="104.6" fill="#c5830d"/><rect x="1367.70" y="684.0" width="3.8" height="105.0" fill="#c5830d"/><rect x="1078" y="796.5" width="300" height="6.3" fill="#c4bbb0"/><g font-family="DejaVu Sans Mono" font-size="9.3" fill="#c9c1b6"><text x="1084.10" y="803" text-anchor="middle">2026-04-09T18:04:00</text><text x="1089.81" y="803" text-anchor="middle">2026-04-09T18:04:00</text><text x="1095.52" y="803" text-anchor="middle">2026-04-09T18:04:00</text><text x="1101.23" y="803" text-anchor="middle">2026-04-09T18:04:00</text><text x="1106.94" y="803" text-anchor="middle">2026-04-09T18:04:00</text><text x="1112.65" y="803" text-anchor="middle">2026-04-09T18:04:00</text><text x="1118.36" y="803" text-anchor="middle">2026-04-09T18:04:00</text><text x="1124.07" y="803" text-anchor="middle">2026-04-09T18:04:00</text><text x="1129.78" y="803" text-anchor="middle">2026-04-09T18:04:00</text><text x="1135.49" y="803" text-anchor="middle">2026-04-09T18:04:00</text><text x="1141.20" y="803" text-anchor="middle">2026-04-09T18:04:00</text><text x="1146.91" y="803" text-anchor="middle">2026-04-09T18:04:00</text><text x="1152.62" y="803" text-anchor="middle">2026-04-09T18:04:00</text><text x="1158.33" y="803" text-anchor="middle">2026-04-09T18:04:00</text><text x="1164.04" y="803" text-anchor="middle">2026-04-09T18:04:00</text><text x="1169.75" y="803" text-anchor="middle">2026-04-09T18:04:00</text><text x="1175.46" y="803" text-anchor="middle">2026-04-09T18:04:00</text><text x="1181.17" y="803" text-anchor="middle">2026-04-09T18:04:00</text><text x="1186.88" y="803" text-anchor="middle">2026-04-09T18:04:00</text><text x="1192.59" y="803" text-anchor="middle">2026-04-09T18:04:00</text><text x="1198.30" y="803" text-anchor="middle">2026-04-09T18:04:00</text><text x="1204.01" y="803" text-anchor="middle">2026-04-09T18:04:00</text><text x="1209.72" y="803" text-anchor="middle">2026-04-09T18:04:00</text><text x="1215.43" y="803" text-anchor="middle">2026-04-09T18:04:00</text><text x="1221.14" y="803" text-anchor="middle">2026-04-09T18:04:00</text><text x="1226.85" y="803" text-anchor="middle">2026-04-09T18:04:00</text><text x="1232.56" y="803" text-anchor="middle">2026-04-09T18:04:00</text><text x="1238.27" y="803" text-anchor="middle">2026-04-09T18:04:00</text><text x="1243.98" y="803" text-anchor="middle">2026-04-09T18:04:00</text><text x="1249.69" y="803" text-anchor="middle">2026-04-09T18:04:00</text><text x="1255.40" y="803" text-anchor="middle">2026-04-09T18:04:00</text><text x="1261.11" y="803" text-anchor="middle">2026-04-09T18:04:00</text><text x="1266.82" y="803" text-anchor="middle">2026-04-09T18:04:00</text><text x="1272.53" y="803" text-anchor="middle">2026-04-09T18:04:00</text><text x="1278.24" y="803" text-anchor="middle">2026-04-09T18:04:00</text><text x="1283.95" y="803" text-anchor="middle">2026-04-09T18:04:00</text><text x="1289.66" y="803" text-anchor="middle">2026-04-09T18:04:00</text><text x="1295.37" y="803" text-anchor="middle">2026-04-09T18:04:00</text><text x="1301.08" y="803" text-anchor="middle">2026-04-09T18:04:00</text><text x="1306.79" y="803" text-anchor="middle">2026-04-09T18:04:00</text><text x="1312.50" y="803" text-anchor="middle">2026-04-09T18:04:00</text><text x="1318.21" y="803" text-anchor="middle">2026-04-09T18:04:00</text><text x="1323.92" y="803" text-anchor="middle">2026-04-09T18:04:00</text><text x="1329.63" y="803" text-anchor="middle">2026-04-09T18:04:00</text><text x="1335.34" y="803" text-anchor="middle">2026-04-09T18:04:00</text><text x="1341.05" y="803" text-anchor="middle">2026-04-09T18:04:00</text><text x="1346.76" y="803" text-anchor="middle">2026-04-09T18:04:00</text><text x="1352.47" y="803" text-anchor="middle">2026-04-09T18:04:00</text><text x="1358.18" y="803" text-anchor="middle">2026-04-09T18:04:00</text><text x="1363.89" y="803" text-anchor="middle">2026-04-09T18:04:00</text><text x="1369.60" y="803" text-anchor="middle">2026-04-09T18:04:00</text><text x="1375.31" y="803" text-anchor="middle">2026-04-09T18:04:00</text><text x="1381.02" y="803" text-anchor="middle">2026-04-09T18:04:00</text><text x="1386.73" y="803" text-anchor="middle">2026-04-09T18:04:00</text><text x="1392.44" y="803" text-anchor="middle">2026-04-09T18:04:00</text><text x="1398.15" y="803" text-anchor="middle">2026-04-09T18:04:00</text><text x="1403.86" y="803" text-anchor="middle">2026-04-09T18:04:00</text><text x="1409.57" y="803" text-anchor="middle">2026-04-09T18:04:00</text><text x="1415.28" y="803" text-anchor="middle">2026-04-09T18:04:00</text><text x="1420.99" y="803" text-anchor="middle">2026-04-09T18:04:00</text><text x="1426.70" y="803" text-anchor="middle">2026-04-09T18:04:00</text><text x="1432.41" y="803" text-anchor="middle">2026-04-09T18:04:00</text><text x="1438.12" y="803" text-anchor="middle">2026-04-09T18:04:00</text><text x="1443.83" y="803" text-anchor="middle">2026-04-09T18:04:00</text><text x="1449.54" y="803" text-anchor="middle">2026-04-09T18:04:00</text><text x="1455.25" y="803" text-anchor="middle">2026-04-09T18:04:00</text><text x="1460.96" y="803" text-anchor="middle">2026-04-09T18:04:00</text><text x="1466.67" y="803" text-anchor="middle">2026-04-09T18:04:00</text><text x="1472.38" y="803" text-anchor="middle">2026-04-09T18:04:00</text><text x="1478.09" y="803" text-anchor="middle">2026-04-09T18:04:00</text><text x="1483.80" y="803" text-anchor="middle">2026-04-09T18:04:00</text></g><text x="0" y="0" text-anchor="middle" font-family="DejaVu Sans Mono" font-size="9.5" fill="#c9c1b6"></text><text transform="translate(1051,729) rotate(-90)" text-anchor="middle" font-family="Liberation Sans" font-size="12" fill="#9a8e80">ms</text></g></svg>
<div class="card" style="left:284px;top:872px;width:535px;height:80px"></div>
<div class="sec" style="left:301px;top:889px">APPLICATION LOG</div>
<div class="a m" style="left:665px;top:888px;font-size:12px;color:#9a8e80">100 entries</div>
<div class="a" style="left:750px;top:886px;width:20px;height:22px;border-radius:4px;border:1px solid #ebe6df;background:#fff"></div>
<div class="a" style="left:759.6px;top:890px;width:1px;height:12px;background:#a9a6b0"></div>
<div class="a" style="left:776px;top:885px;width:27px;height:24px;border-radius:5px;border:1px solid #ebe6df;background:#fff"></div>
<svg style="left:781.7px;top:885.9px" width="16.8" height="16.8" viewBox="0 0 24 24" fill="none" stroke="#8f8376" stroke-width="2.1" stroke-linecap="round" stroke-linejoin="round"><path d="M3 12a9 9 0 0 1 9-9 9.75 9.75 0 0 1 6.74 2.74L21 8"/><path d="M21 3v5h-5"/><path d="M21 12a9 9 0 0 1-9 9 9.75 9.75 0 0 1-6.74-2.74L3 16"/><path d="M8 16H3v5"/></svg>
<div class="card" style="left:835px;top:872px;width:535px;height:80px"></div>
<div class="a" style="left:851px;top:888px;font-size:13.4px;letter-spacing:0.25px;color:#1c1917;-webkit-text-stroke:0.55px #1c1917">Timeline</div>
<div class="a m" style="left:1237px;top:888px;font-size:12px;color:#9a8e80">4 events</div>
<div class="a" style="left:1300px;top:886px;width:20px;height:22px;border-radius:4px;border:1px solid #ebe6df;background:#fff"></div>
<div class="a" style="left:1309.6px;top:890px;width:1px;height:12px;background:#a9a6b0"></div>
<div class="a" style="left:1326px;top:885px;width:27px;height:24px;border-radius:5px;border:1px solid #ebe6df;background:#fff"></div>
<svg style="left:1331.5px;top:885.9px" width="16.8" height="16.8" viewBox="0 0 24 24" fill="none" stroke="#8f8376" stroke-width="2.1" stroke-linecap="round" stroke-linejoin="round"><path d="M3 12a9 9 0 0 1 9-9 9.75 9.75 0 0 1 6.74 2.74L21 8"/><path d="M21 3v5h-5"/><path d="M21 12a9 9 0 0 1-9 9 9.75 9.75 0 0 1-6.74-2.74L3 16"/><path d="M8 16H3v5"/></svg>
</body></html>
